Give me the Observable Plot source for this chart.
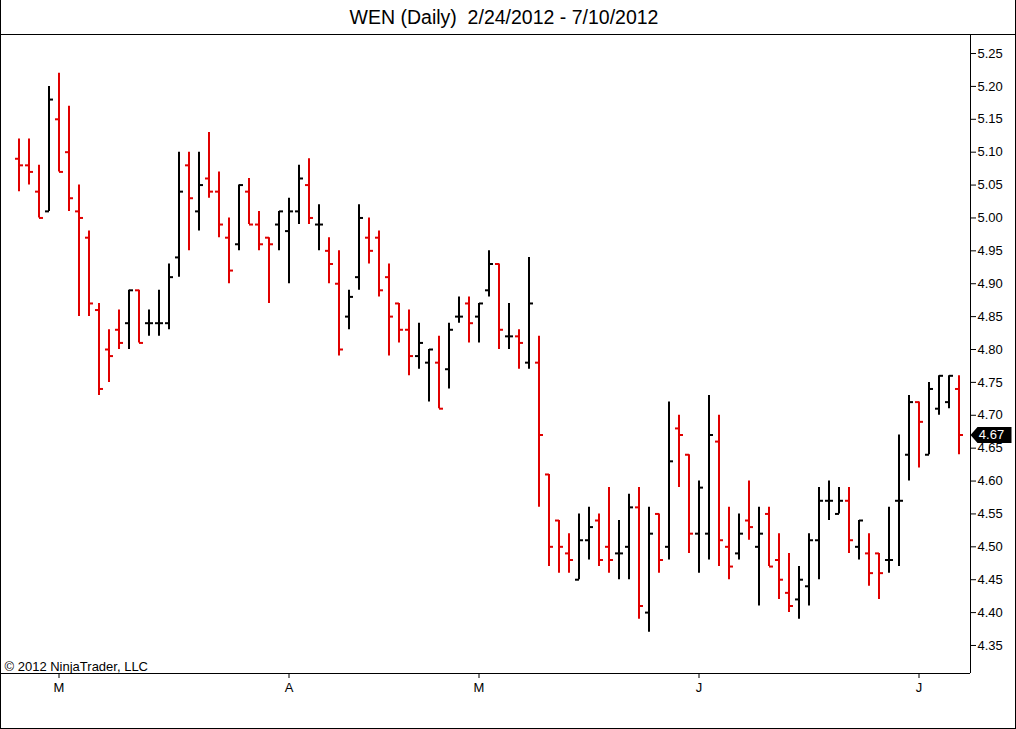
<!DOCTYPE html>
<html><head><meta charset="utf-8">
<script src="https://cdn.jsdelivr.net/npm/d3@7"></script>
<script src="https://cdn.jsdelivr.net/npm/@observablehq/plot@0.6"></script>
<style>
html,body{margin:0;padding:0;background:#fff;}
#wrap{position:relative;width:1016px;height:729px;box-sizing:border-box;border-left:1px solid #000;border-right:1px solid #000;border-bottom:1px solid #000;font-family:Arial,"Liberation Sans",sans-serif;overflow:hidden;background:#fff}
#title{height:34px;border-bottom:1px solid #000;text-align:center;font-size:19.5px;line-height:34px;color:#000;white-space:pre;padding-right:8px}
svg{display:block}
</style></head><body>
<div id="wrap"><div id="title"></div><div id="chart"></div></div>
<script>
const title = "WEN (Daily)  2/24/2012 - 7/10/2012";
const copyright = "© 2012 NinjaTrader, LLC";

const opens = [5.09,5.08,5.04,5.01,5.15,5.10,5.01,4.97,4.86,4.80,4.83,4.84,4.89,4.84,4.84,4.84,4.94,5.08,5.01,5.06,
  5.04,4.97,4.96,5.04,4.99,4.97,4.99,4.98,5.01,5.05,4.99,4.95,4.90,4.85,4.91,4.97,4.97,4.91,4.87,4.83,
  4.79,4.78,4.78,4.77,4.85,4.87,4.85,4.89,4.93,4.82,4.82,4.78,4.78,4.61,4.54,4.49,4.45,4.51,4.54,4.50,
  4.49,4.50,4.56,4.40,4.55,4.50,4.68,4.64,4.52,4.52,4.66,4.50,4.49,4.54,4.50,4.55,4.48,4.43,4.42,4.44,
  4.51,4.57,4.55,4.57,4.50,4.49,4.49,4.48,4.57,4.64,4.72,4.64,4.71,4.72,4.74];
const highs = [5.12,5.12,5.08,5.20,5.22,5.17,5.05,4.98,4.87,4.83,4.86,4.89,4.89,4.86,4.89,4.93,5.10,5.10,5.10,5.13,
  5.07,5.00,5.05,5.06,5.01,4.97,5.01,5.03,5.08,5.09,5.02,4.97,4.95,4.89,5.02,5.00,4.98,4.93,4.87,4.86,
  4.84,4.80,4.82,4.84,4.88,4.88,4.87,4.95,4.93,4.87,4.83,4.94,4.82,4.61,4.54,4.52,4.55,4.56,4.55,4.59,
  4.54,4.58,4.59,4.56,4.55,4.72,4.70,4.64,4.60,4.73,4.70,4.56,4.55,4.60,4.56,4.56,4.52,4.49,4.47,4.52,
  4.59,4.60,4.59,4.59,4.54,4.52,4.49,4.56,4.67,4.73,4.72,4.75,4.76,4.76,4.76];
const lows = [5.04,5.05,5.00,5.01,5.07,5.01,4.85,4.85,4.73,4.75,4.80,4.80,4.81,4.82,4.82,4.83,4.91,4.95,4.98,5.03,
  4.97,4.90,4.95,4.99,4.95,4.87,4.95,4.90,4.99,4.99,4.95,4.90,4.79,4.83,4.89,4.93,4.88,4.79,4.81,4.76,
  4.77,4.72,4.71,4.74,4.84,4.81,4.81,4.88,4.80,4.80,4.77,4.77,4.56,4.47,4.46,4.46,4.45,4.48,4.47,4.46,
  4.45,4.45,4.39,4.37,4.46,4.48,4.59,4.49,4.46,4.48,4.47,4.45,4.48,4.51,4.41,4.47,4.42,4.40,4.39,4.41,
  4.45,4.54,4.55,4.49,4.48,4.44,4.42,4.46,4.47,4.60,4.62,4.64,4.70,4.71,4.64];
const closes = [5.08,5.07,5.00,5.18,5.07,5.03,5.00,4.87,4.74,4.79,4.81,4.89,4.81,4.84,4.84,4.91,5.04,5.03,5.05,5.04,
  4.99,4.92,5.05,4.99,4.96,4.96,5.01,5.01,5.06,5.00,4.99,4.93,4.80,4.88,5.00,4.95,4.89,4.85,4.83,4.79,
  4.81,4.80,4.71,4.83,4.85,4.84,4.87,4.93,4.83,4.82,4.81,4.87,4.67,4.50,4.50,4.48,4.51,4.53,4.48,4.48,
  4.49,4.56,4.41,4.52,4.48,4.63,4.67,4.52,4.59,4.67,4.51,4.47,4.52,4.53,4.52,4.47,4.45,4.41,4.45,4.51,
  4.57,4.57,4.57,4.51,4.54,4.46,4.46,4.48,4.57,4.72,4.69,4.74,4.76,4.76,4.67];

const yTicks = [4.35,4.40,4.45,4.50,4.55,4.60,4.65,4.70,4.75,4.80,4.85,4.90,4.95,5.00,5.05,5.10,5.15,5.20,5.25];
const xTickIndex = [4, 27, 46, 68, 90];
const xTickLabels = ["M", "A", "M", "J", "J"];

const red = "#e00000";
const black = "#000000";
const bars = opens.map((o, i) => ({i, open: o, high: highs[i], low: lows[i], close: closes[i]}));
const col = d => (d.close < d.open ? red : black);
const xDomain = [-1.75, 95.15];
const yDomain = [4.3074, 5.2774];
const labelMap = new Map(xTickIndex.map((v, k) => [v, xTickLabels[k]]));
const last = bars[bars.length - 1];

const markerSymbol = {
  draw(ctx) {
    ctx.moveTo(-21, 0);
    ctx.lineTo(-14, -8);
    ctx.lineTo(20, -8);
    ctx.lineTo(20, 8);
    ctx.lineTo(-14, 8);
    ctx.closePath();
  }
};

document.getElementById("title").textContent = title;

const chart = Plot.plot({
  width: 1014,
  height: 693,
  marginTop: 0,
  marginLeft: 0,
  marginRight: 45,
  marginBottom: 55,
  style: {fontFamily: 'Arial, "Liberation Sans", sans-serif', fontSize: "13px", color: "#000", background: "#fff", overflow: "visible"},
  x: {domain: xDomain, axis: "bottom", ticks: xTickIndex, tickFormat: d => labelMap.get(d), tickSize: 5, tickPadding: 4, label: null},
  y: {domain: yDomain, axis: "right", ticks: yTicks, tickFormat: d => d.toFixed(2), tickSize: 5, tickPadding: 2, label: null},
  marks: [
    Plot.ruleX([xDomain[1]], {stroke: "#000"}),
    Plot.ruleY([yDomain[0]], {stroke: "#000"}),
    Plot.ruleX(bars, {x: "i", y1: "low", y2: "high", stroke: col, strokeWidth: 2}),
    Plot.link(bars, {x1: d => d.i - 0.4, x2: "i", y1: "open", y2: "open", stroke: col, strokeWidth: 2}),
    Plot.link(bars, {x1: "i", x2: d => d.i + 0.4, y1: "close", y2: "close", stroke: col, strokeWidth: 2}),
    Plot.text([copyright], {frameAnchor: "bottom-left", text: d => d, dx: 3, dy: -3, textAnchor: "start", lineAnchor: "bottom", fontSize: 13, fill: "#000"}),
    Plot.dot([last], {x: () => xDomain[1], y: "close", symbol: markerSymbol, r: 1, fill: "#000", stroke: "none", dx: 21}),
    Plot.text([last], {x: () => xDomain[1], y: "close", text: d => d.close.toFixed(2), dx: 21, fill: "#fff", fontSize: 13})
  ]
});
document.getElementById("chart").appendChild(chart);
</script>
</body></html>
